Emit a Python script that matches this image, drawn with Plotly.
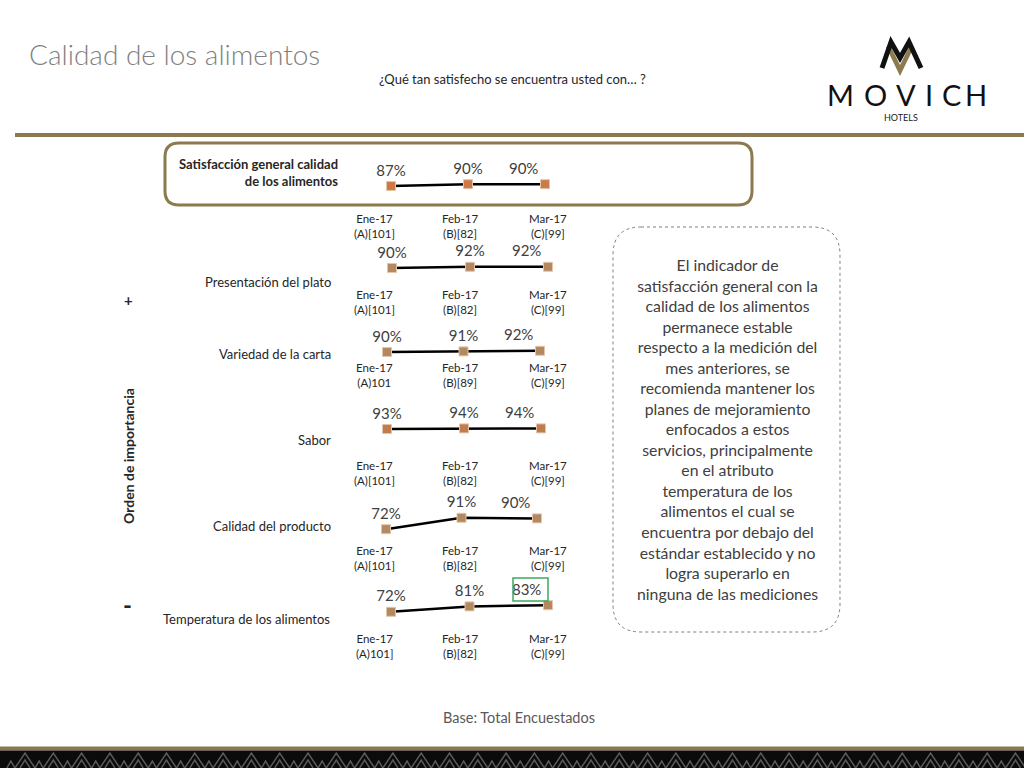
import plotly.graph_objects as go

W, H = 1024, 768

# ---------------- data ----------------
categories = [
    "Satisfacción general calidad<br>de los alimentos",
    "Presentación del plato",
    "Variedad de la carta",
    "Sabor",
    "Calidad del producto",
    "Temperatura de los alimentos",
]
months = ["Ene-17", "Feb-17", "Mar-17"]
values_general = [87, 90, 90]
values_presentacion = [90, 92, 92]
values_variedad = [90, 91, 92]
values_sabor = [93, 94, 94]
values_calidad = [72, 91, 90]
values_temperatura = [72, 81, 83]
series = [values_general, values_presentacion, values_variedad,
          values_sabor, values_calidad, values_temperatura]
bases_general = ["(A)[101]", "(B)[82]", "(C)[99]"]
bases_presentacion = ["(A)[101]", "(B)[82]", "(C)[99]"]
bases_variedad = ["(A)101", "(B)[89]", "(C)[99]"]
bases_sabor = ["(A)[101]", "(B)[82]", "(C)[99]"]
bases_calidad = ["(A)[101]", "(B)[82]", "(C)[99]"]
bases_temperatura = ["(A)101]", "(B)[82]", "(C)[99]"]
bases = [bases_general, bases_presentacion, bases_variedad,
         bases_sabor, bases_calidad, bases_temperatura]

comment_lines = [
    "El indicador de", "satisfacción general con la", "calidad de los alimentos",
    "permanece estable", "respecto a la medición del", "mes anteriores, se",
    "recomienda mantener los", "planes de mejoramiento", "enfocados a estos",
    "servicios, principalmente", "en el atributo", "temperatura de los",
    "alimentos el cual se", "encuentra por debajo del", "estándar establecido y no",
    "logra superarlo en", "ninguna de las mediciones",
]

# ---------------- layout helpers ----------------
def px(x):
    return x / W

def py(y):
    return 1 - y / H

FONT = "Lato"
TXT = "#262626"
GOLD = "#8A7A4E"

# per-row geometry (pixels): first marker x, spacing, pixel of the 90% level
rows_geo = [
    (391, 77, 184.2),
    (392, 78, 268.0),
    (387, 76.5, 352.0),
    (387, 77, 430.8),
    (386, 75.5, 518.4),
    (391, 78.5, 601.0),
]
label_y = [172, 282, 354, 440, 526, 619]
label_right = [340, 333, 333, 333, 333, 332]
tick_y = [226, 302, 375, 473, 558, 646]
tick_x = [374, 460, 548]
marker_colors = ["#CC7B48", "#B48962", "#B48962", "#C27B4C", "#B48962", "#B48962"]

fig = go.Figure()
layout = dict(
    width=W, height=H, autosize=False,
    margin=dict(l=0, r=0, t=0, b=0),
    paper_bgcolor="white", plot_bgcolor="rgba(0,0,0,0)",
    showlegend=False,
    font=dict(family=FONT, color=TXT),
)
annotations = []
shapes = []

def path_from(points, close=True):
    s = "M " + " L ".join(f"{px(x):.5f},{py(y):.5f}" for x, y in points)
    return s + (" Z" if close else "")

def rounded_rect(x0, y0, x1, y1, r):
    p = lambda x, y: f"{px(x):.5f},{py(y):.5f}"
    return (f"M {p(x0 + r, y0)} L {p(x1 - r, y0)} Q {p(x1, y0)} {p(x1, y0 + r)} "
            f"L {p(x1, y1 - r)} Q {p(x1, y1)} {p(x1 - r, y1)} "
            f"L {p(x0 + r, y1)} Q {p(x0, y1)} {p(x0, y1 - r)} "
            f"L {p(x0, y0 + r)} Q {p(x0, y0)} {p(x0 + r, y0)} Z")

# decorative frames (drawn below traces)
shapes.append(dict(type="line", xref="paper", yref="paper", x0=px(15), x1=px(1024),
                   y0=py(135), y1=py(135), line=dict(color=GOLD, width=4), layer="below"))
shapes.append(dict(type="path", xref="paper", yref="paper",
                   path=rounded_rect(165, 143, 752, 205, 14),
                   line=dict(color=GOLD, width=3), layer="below"))
shapes.append(dict(type="path", xref="paper", yref="paper",
                   path=rounded_rect(613, 227, 840, 632, 28),
                   line=dict(color="#7F7F7F", width=1, dash="dot"), layer="below"))
# green highlight box
shapes.append(dict(type="rect", xref="paper", yref="paper", x0=px(513), x1=px(548),
                   y0=py(601), y1=py(578), line=dict(color="#3BAA5C", width=1.5)))

# bottom band
shapes.append(dict(type="rect", xref="paper", yref="paper", x0=0, x1=1, y0=py(750.5), y1=py(746.5),
                   fillcolor=GOLD, line=dict(width=0)))
shapes.append(dict(type="rect", xref="paper", yref="paper", x0=0, x1=1, y0=0, y1=py(750.5),
                   fillcolor="#0B0B0B", line=dict(width=0)))
tri = ""
k = 0
while k * 28.3 < W + 30:
    cx = 25 + k * 28.3
    tri += path_from([(cx - 10, 768), (cx, 753), (cx + 10, 768)], close=False) + " "
    tri += path_from([(cx - 5, 768), (cx, 760), (cx + 5, 768)], close=False) + " "
    sx = cx - 14.15
    tri += path_from([(sx - 4, 768), (sx, 761), (sx + 4, 768)], close=False) + " "
    k += 1
shapes.append(dict(type="path", xref="paper", yref="paper", path=tri,
                   line=dict(color="#5A5A5A", width=1.5)))

# logo icon
shapes.append(dict(type="path", xref="paper", yref="paper",
                   path=path_from([(886, 47), (900, 76), (914, 47), (909, 47), (900, 65), (891, 47)]),
                   fillcolor="#8C7B4E", line=dict(width=0)))
shapes.append(dict(type="path", xref="paper", yref="paper",
                   path=path_from([(882, 68), (891, 42), (900, 58), (909, 42), (921, 68)], close=False),
                   line=dict(color="#111111", width=5)))

# ---------------- sparklines ----------------
for i, (vals, (x0, dx, p90)) in enumerate(zip(series, rows_geo)):
    n = i + 1
    sfx = "" if n == 1 else str(n)
    layout["xaxis" + sfx] = dict(domain=[px(x0 - 0.5 * dx), px(x0 + 2.5 * dx)], range=[-0.5, 2.5],
                                 visible=False, fixedrange=True, anchor="y" + sfx)
    layout["yaxis" + sfx] = dict(domain=[py(p90 + 24), py(p90 - 6)], range=[50, 100],
                                 visible=False, fixedrange=True, anchor="x" + sfx)
    fig.add_trace(go.Scatter(
        x=list(range(len(vals))), y=vals,
        xaxis="x" + sfx, yaxis="y" + sfx,
        mode="lines+markers+text",
        text=[f"{v}%" for v in vals],
        textposition=["top center", "top center", "top left"],
        textfont=dict(family=FONT, size=15, color="#404040"),
        line=dict(color="black", width=2.5),
        marker=dict(symbol="square", size=9, color=marker_colors[i],
                    line=dict(color="#E3C6A8", width=1)),
        cliponaxis=False, hoverinfo="skip",
    ))
    # category label
    annotations.append(dict(
        xref="paper", yref="paper", x=px(label_right[i]), y=py(label_y[i]),
        xanchor="right", yanchor="middle", align="right", showarrow=False,
        text=(f"<b>{categories[i]}</b>" if i == 0 else categories[i]),
        font=dict(family=FONT, size=13 if i == 0 else 13, color=TXT)))
    # month / base labels
    for j, m in enumerate(months):
        annotations.append(dict(
            xref="paper", yref="paper", x=px(tick_x[j]), y=py(tick_y[i]),
            xanchor="center", yanchor="middle", showarrow=False,
            text=f"{m}<br>{bases[i][j]}",
            font=dict(family=FONT, size=11.5, color=TXT)))

# ---------------- texts ----------------
annotations += [
    dict(xref="paper", yref="paper", x=px(27), y=py(54), xanchor="left", yanchor="middle",
         showarrow=False, text="Calidad de los alimentos",
         font=dict(family=FONT, size=28, color="#7F7F7F", weight=300)),
    dict(xref="paper", yref="paper", x=px(512), y=py(79), xanchor="center", yanchor="middle",
         showarrow=False, text="¿Qué tan satisfecho se encuentra usted con… ?",
         font=dict(family=FONT, size=13, color=TXT)),
    dict(xref="paper", yref="paper", x=px(727), y=py(429), xanchor="center", yanchor="middle",
         showarrow=False, text="<br>".join(comment_lines), align="center",
         font=dict(family=FONT, size=15.8, color="#404040")),
    dict(xref="paper", yref="paper", x=px(128), y=py(456), xanchor="center", yanchor="middle",
         showarrow=False, text="<b>Orden de importancia</b>", textangle=-90,
         font=dict(family=FONT, size=14, color=TXT)),
    dict(xref="paper", yref="paper", x=px(128), y=py(300), xanchor="center", yanchor="middle",
         showarrow=False, text="<b>+</b>", font=dict(family=FONT, size=15, color=TXT)),
    dict(xref="paper", yref="paper", x=px(127), y=py(604), xanchor="center", yanchor="middle",
         showarrow=False, text="<b>-</b>", font=dict(family=FONT, size=24, color=TXT)),
    dict(xref="paper", yref="paper", x=px(519), y=py(717), xanchor="center", yanchor="middle",
         showarrow=False, text="Base: Total Encuestados",
         font=dict(family=FONT, size=14.5, color="#595959")),
    dict(xref="paper", yref="paper", x=px(901), y=py(117), xanchor="center", yanchor="middle",
         showarrow=False, text="HOTELS", font=dict(family=FONT, size=9, color="#222222")),
]
for ch, cx in zip("MOVICH", [840, 875, 906, 929, 951, 976]):
    annotations.append(dict(xref="paper", yref="paper", x=px(cx), y=py(94),
                            xanchor="center", yanchor="middle", showarrow=False, text=ch,
                            font=dict(family=FONT, size=29, color="#111111")))

layout["annotations"] = annotations
layout["shapes"] = shapes
fig.update_layout(**layout)

fig.write_html("out.html", config={"displayModeBar": False},
               post_script="document.body.style.margin='0';document.body.style.overflow='hidden';")
